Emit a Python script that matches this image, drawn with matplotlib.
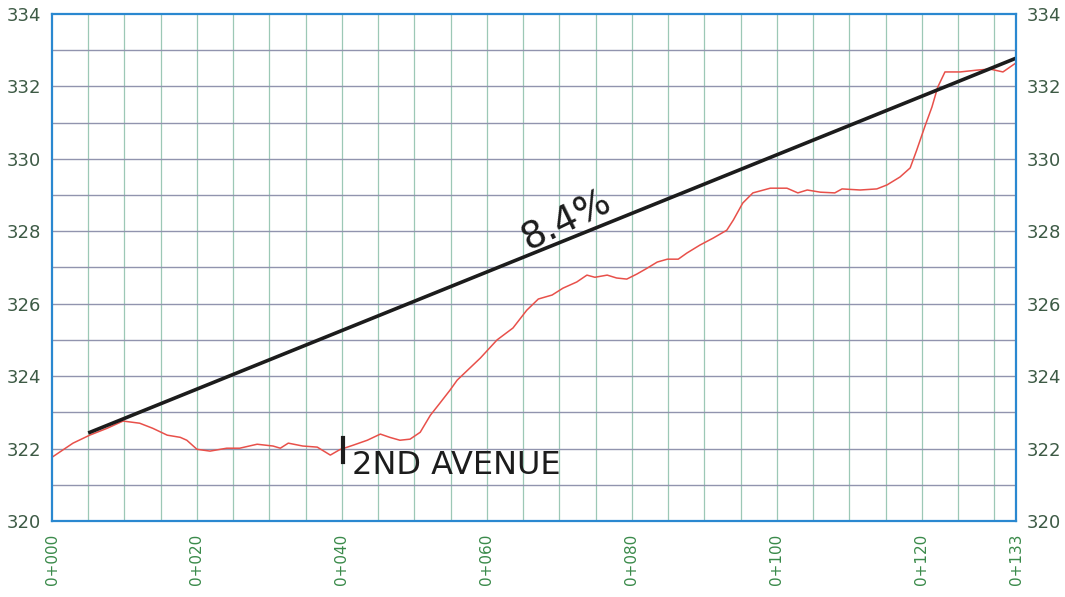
import matplotlib
matplotlib.use("Agg")
import matplotlib.pyplot as plt
from matplotlib.ticker import MultipleLocator

# ground profile (red), chainage in m vs elevation in m
station = [0, 2.9, 5.2, 7.6, 9.8, 12.1, 13.9, 15.9, 17.7, 18.6, 20.0, 21.8, 24.1,
           25.9, 28.3, 30.5, 31.5, 32.6, 34.6, 36.6, 38.4, 39.7, 41.5, 43.5, 45.3,
           46.6, 48.0, 49.4, 50.8, 52.2, 53.5, 54.9, 55.9, 59.1, 61.4, 63.6, 65.5,
           67.1, 69.0, 70.5, 72.4, 73.8, 74.9, 76.6, 77.9, 79.3, 80.7, 82.1, 83.5,
           84.9, 86.4, 87.6, 89.4, 91.2, 93.1, 94.0, 95.3, 96.7, 99.1, 101.4, 102.9,
           104.2, 106.0, 108.0, 109.0, 111.5, 113.8, 115.2, 117.0, 118.4, 119.3,
           120.4, 121.4, 122.2, 123.2, 125.3, 127.6, 129.4, 131.2, 133.0]
elev = [321.76, 322.15, 322.37, 322.56, 322.76, 322.70, 322.56, 322.37, 322.31,
        322.23, 321.98, 321.93, 322.01, 322.01, 322.12, 322.07, 322.01, 322.15,
        322.07, 322.04, 321.82, 321.97, 322.09, 322.23, 322.40, 322.31, 322.23,
        322.26, 322.45, 322.92, 323.25, 323.61, 323.89, 324.50, 325.00, 325.33,
        325.82, 326.13, 326.24, 326.43, 326.60, 326.79, 326.73, 326.79, 326.71,
        326.68, 326.82, 326.98, 327.15, 327.23, 327.23, 327.40, 327.62, 327.81,
        328.03, 328.31, 328.78, 329.06, 329.19, 329.19, 329.06, 329.14, 329.08,
        329.06, 329.17, 329.14, 329.17, 329.28, 329.50, 329.75, 330.24, 330.88,
        331.43, 331.98, 332.40, 332.40, 332.45, 332.48, 332.40, 332.65]

# hand-drawn grade line
grade_x = [5.0, 133.0]
grade_y = [322.43, 332.78]
grade_label = "8.4%"

# street marker
marker_x = [40.1, 40.1]
marker_y = [322.30, 321.62]
street_label = "2ND AVENUE"

xticks = [0, 20, 40, 60, 80, 100, 120, 133]
xticklabels = ["0+000", "0+020", "0+040", "0+060", "0+080", "0+100", "0+120", "0+133"]
yticks = [320, 322, 324, 326, 328, 330, 332, 334]

fig = plt.figure(figsize=(10.65, 5.97), dpi=100)
ax = fig.add_axes([52 / 1065, 1 - 521 / 597, 964 / 1065, 507 / 597])

ax.set_xlim(0, 133)
ax.set_ylim(320, 334)

# grid: verticals every 5 m, horizontals every 1 m (drawn as lines so the
# labelled stations don't drop out)
for gx in range(5, 133, 5):
    ax.axvline(gx, color="#9cc8b6", lw=0.9, zorder=0)
for gy in range(321, 334):
    ax.axhline(gy, color="#9194ae", lw=1.0, zorder=0)

ax.plot(station, elev, color="#e8504a", lw=1.1)
ax.plot(grade_x, grade_y, color="#1c1c1c", lw=2.6, solid_capstyle="butt")
ax.plot(marker_x, marker_y, color="#1c1c1c", lw=3.0)

ax.text(71.0, 328.3, grade_label, rotation=26, ha="center", va="center",
        fontsize=27, color="#1c1c1c", family="DejaVu Sans")
ax.text(41.4, 321.52, street_label, ha="left", va="center", fontsize=23,
        color="#1c1c1c", family="DejaVu Sans")

ax.set_xticks(xticks)
ax.set_xticklabels(xticklabels, rotation=90, fontsize=11, color="#3a8a4a")
ax.set_yticks(yticks)
ax.tick_params(axis="both", which="both", length=0)
ax.tick_params(axis="x", pad=9)
ax.tick_params(axis="y", labelsize=13, labelcolor="#3d5a45", pad=8,
               right=True, labelright=True)

for side in ax.spines.values():
    side.set_color("#2a88d0")
    side.set_linewidth(1.6)

fig.savefig("out.png", dpi=100)
